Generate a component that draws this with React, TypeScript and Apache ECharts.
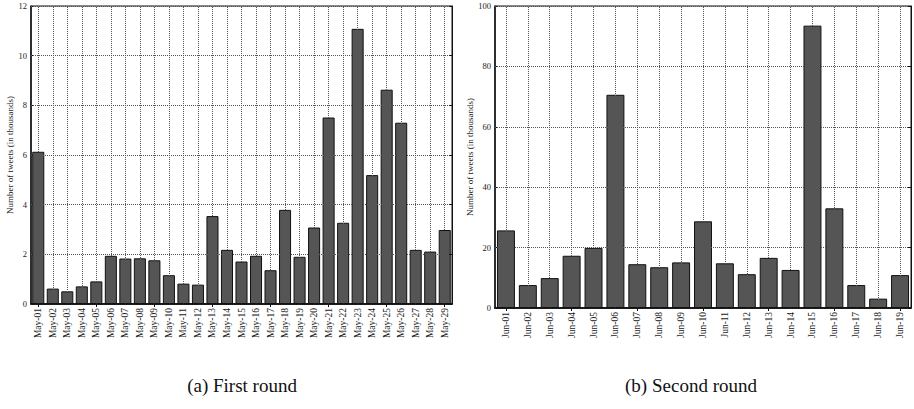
import React, { useEffect, useRef } from "react";
import * as echarts from "echarts";

const mayDays = ["May-01","May-02","May-03","May-04","May-05","May-06","May-07","May-08","May-09","May-10","May-11","May-12","May-13","May-14","May-15","May-16","May-17","May-18","May-19","May-20","May-21","May-22","May-23","May-24","May-25","May-26","May-27","May-28","May-29"];
const mayTweets = [6.13,0.62,0.51,0.71,0.91,1.94,1.83,1.84,1.76,1.16,0.82,0.78,3.54,2.18,1.71,1.94,1.36,3.79,1.9,3.08,7.51,3.27,11.08,5.19,8.63,7.3,2.18,2.11,2.98];
const junDays = ["Jun-01","Jun-02","Jun-03","Jun-04","Jun-05","Jun-06","Jun-07","Jun-08","Jun-09","Jun-10","Jun-11","Jun-12","Jun-13","Jun-14","Jun-15","Jun-16","Jun-17","Jun-18","Jun-19"];
const junTweets = [25.7,7.6,9.9,17.3,19.9,70.6,14.5,13.5,15.1,28.7,14.8,11.2,16.6,12.6,93.5,33.0,7.6,3.1,10.9];
const yTitle = "Number of tweets (in thousands)";
const captions = ["(a) First round", "(b) Second round"];

const FONT = "Liberation Serif";

export default function App() {
  const ref = useRef<HTMLDivElement>(null);
  useEffect(() => {
    if (!ref.current) return;
    const chart = echarts.init(ref.current, undefined, { renderer: "svg" });
    const dotted = { type: "dotted" as const, color: "#555", width: 1 };
    const grids = [
      { left: 31, top: 6, width: 421, height: 298, show: true, borderColor: "#111", borderWidth: 1 },
      { left: 495, top: 6, width: 416, height: 302, show: true, borderColor: "#111", borderWidth: 1 },
    ];
    const catAxis = (data: string[], gi: number) => ({
      type: "category", data, gridIndex: gi, position: "bottom",
      axisLine: { show: true, lineStyle: { color: "#111", width: 1.5 } },
      axisTick: { show: true, inside: true, alignWithLabel: true, length: 3, lineStyle: { color: "#111" } },
      axisLabel: { rotate: 90, fontFamily: FONT, fontSize: 9.5, color: "#222", margin: 4 },
      splitLine: { show: false },
    });
    const topAxis = (data: string[], gi: number) => ({
      type: "category", data, gridIndex: gi, position: "top", z: 5,
      axisLine: { show: true, lineStyle: { color: "#111", width: 1.5 } },
      axisTick: { show: true, inside: true, alignWithLabel: true, length: 3, lineStyle: { color: "#111" } },
      axisLabel: { show: false },
      splitLine: { show: false },
    });
    const valAxis = (gi: number, max: number, interval: number, gap: number) => ({
      type: "value", gridIndex: gi, min: 0, max, interval, position: "left",
      name: yTitle, nameLocation: "middle", nameGap: gap, nameRotate: 90,
      nameTextStyle: { fontFamily: FONT, fontSize: 9, color: "#222" },
      axisLine: { show: true, lineStyle: { color: "#111", width: 1.5 } },
      axisTick: { show: true, inside: true, length: 3, lineStyle: { color: "#111" } },
      axisLabel: { fontFamily: FONT, fontSize: 8.5, color: "#222", margin: 4 },
      splitLine: { show: false },
    });
    const rightAxis = (gi: number, max: number, interval: number) => ({
      type: "value", gridIndex: gi, min: 0, max, interval, position: "right", z: 5,
      axisLine: { show: true, lineStyle: { color: "#111", width: 1 } },
      axisTick: { show: true, inside: true, length: 3, lineStyle: { color: "#111" } },
      axisLabel: { show: false },
      splitLine: { show: true, lineStyle: dotted },
    });
    const vGrid = (data: string[]) => ({
      silent: true, symbol: "none", animation: false,
      label: { show: false },
      lineStyle: { ...dotted, color: "#555" },
      emphasis: { disabled: true },
      data: data.map((d) => ({ xAxis: d })),
    });
    const barStyle = { color: "#555555", borderColor: "#111", borderWidth: 1 };
    chart.setOption({
      animation: false,
      backgroundColor: "#fff",
      grid: grids,
      xAxis: [catAxis(mayDays, 0), catAxis(junDays, 1), topAxis(mayDays, 0), topAxis(junDays, 1)],
      yAxis: [valAxis(0, 12, 2, 17), valAxis(1, 100, 20, 20), rightAxis(0, 12, 2), rightAxis(1, 100, 20)],
      series: [
        { type: "bar", data: mayTweets, xAxisIndex: 0, yAxisIndex: 0, barCategoryGap: "17%", itemStyle: barStyle, markLine: vGrid(mayDays) },
        { type: "bar", data: junTweets, xAxisIndex: 1, yAxisIndex: 1, barCategoryGap: "18%", itemStyle: barStyle, markLine: vGrid(junDays) },
      ],
      graphic: [
        { type: "text", x: 242, y: 385, style: { text: captions[0], fontFamily: FONT, fontSize: 19, fill: "#111", align: "center", verticalAlign: "middle" } },
        { type: "text", x: 691, y: 385, style: { text: captions[1], fontFamily: FONT, fontSize: 19, fill: "#111", align: "center", verticalAlign: "middle" } },
      ],
    });
    return () => chart.dispose();
  }, []);
  return <div ref={ref} style={{ position: "absolute", left: 0, top: 0, width: 914, height: 409 }} />;
}
